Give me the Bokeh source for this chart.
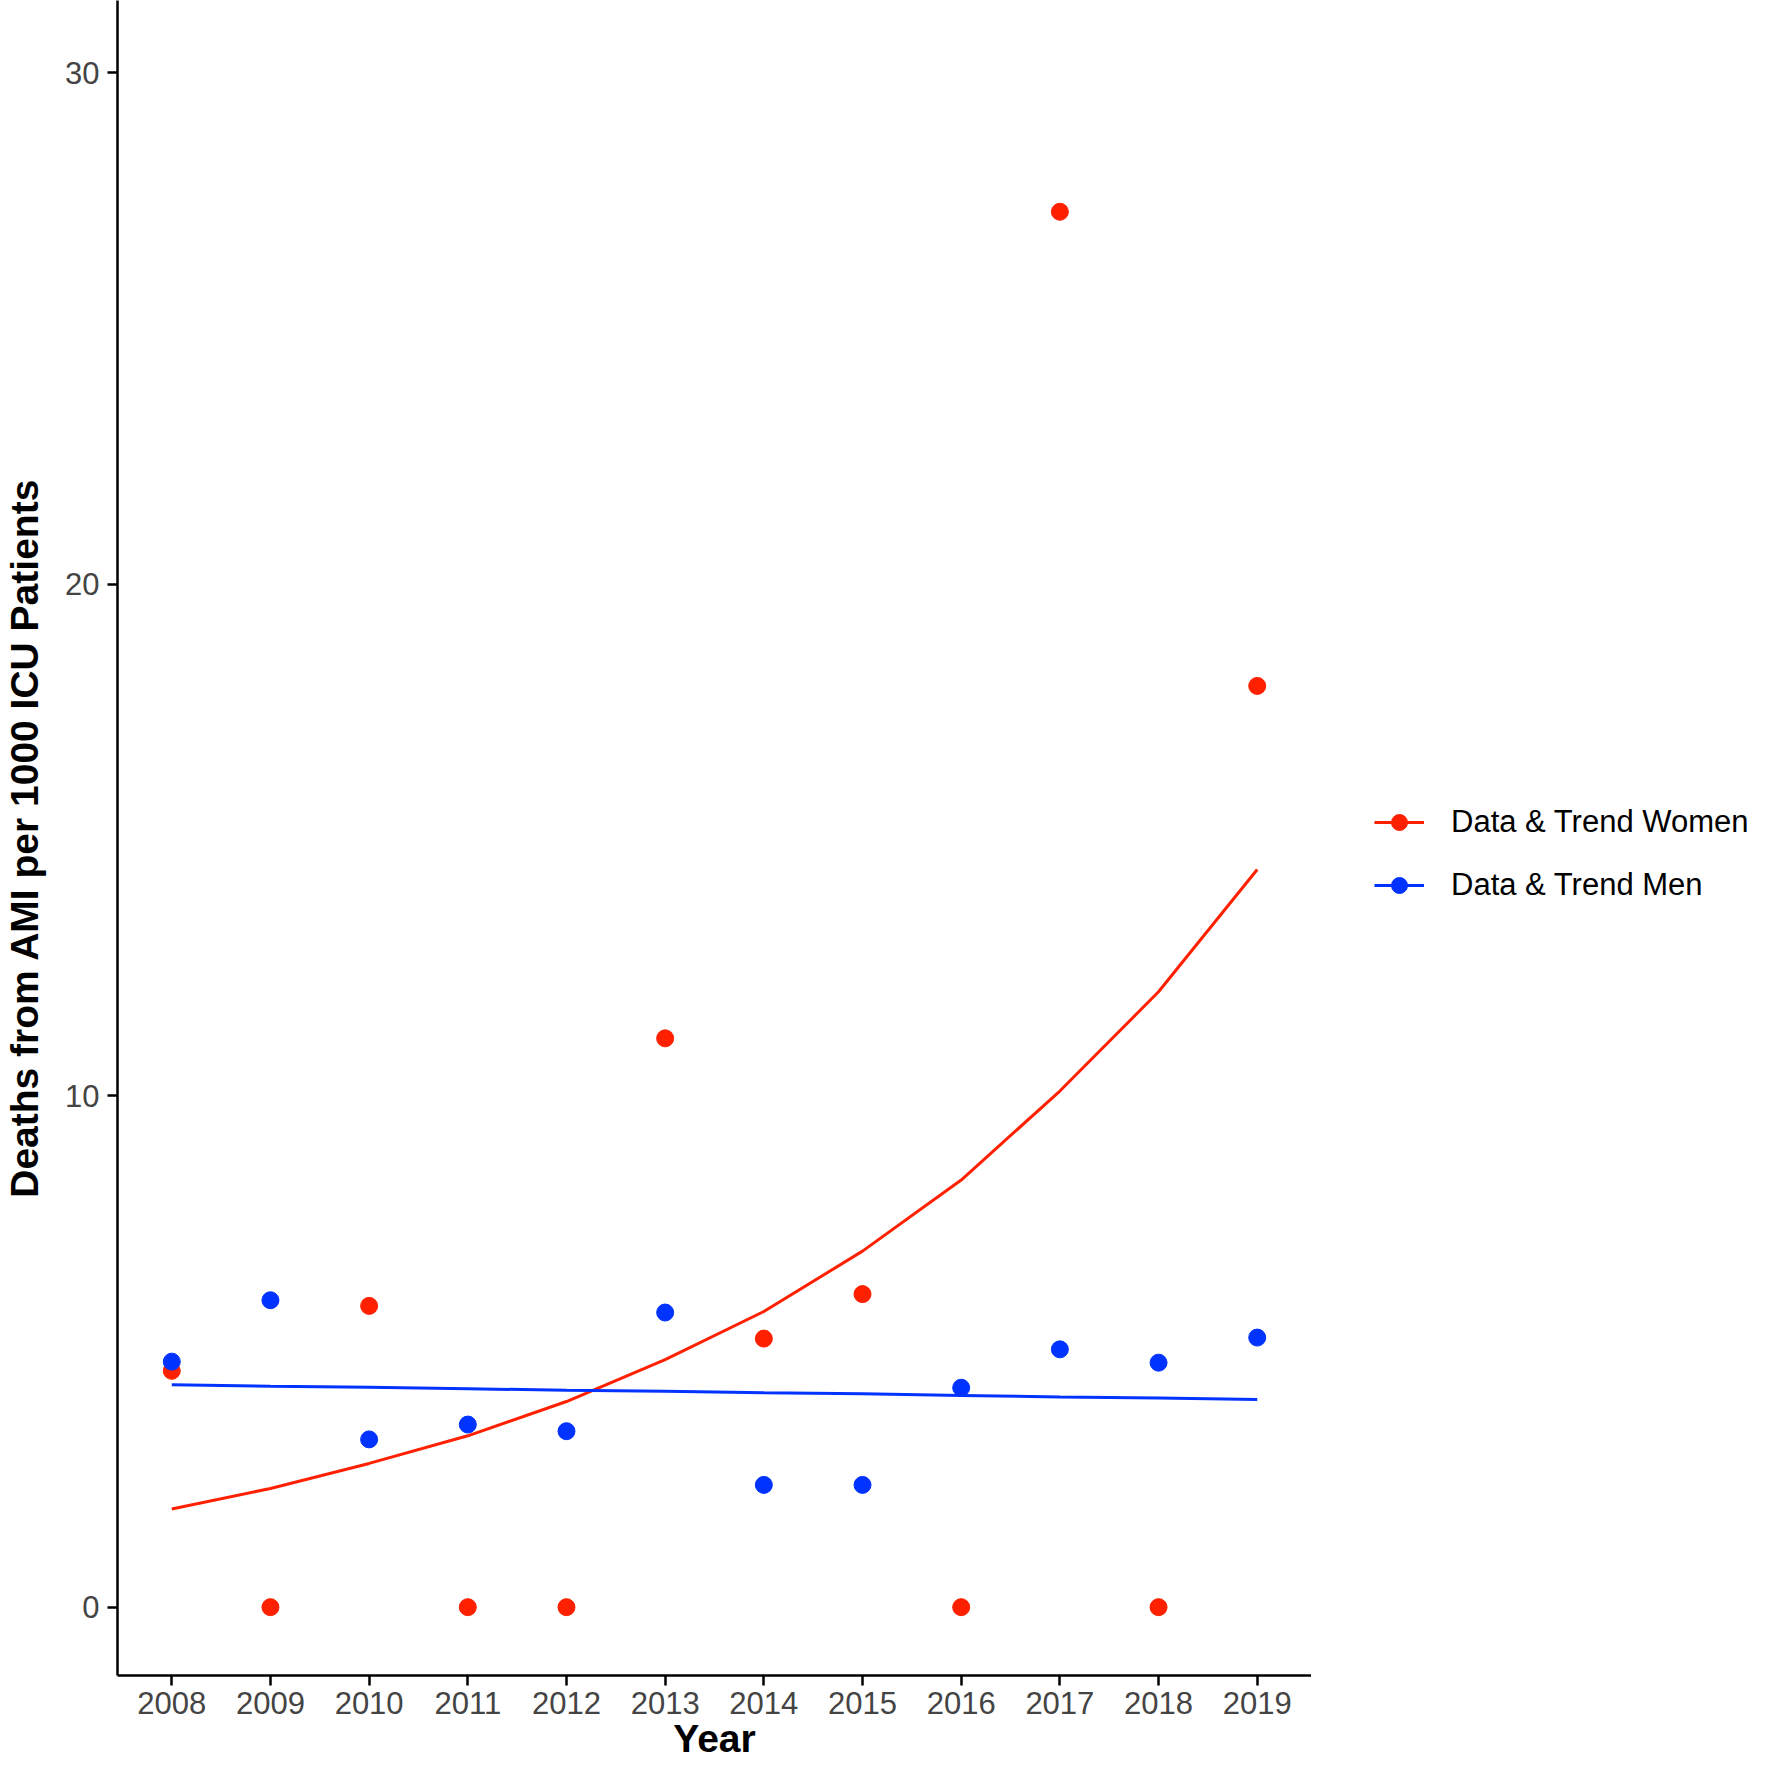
from bokeh.plotting import figure
from bokeh.models import Range1d, FixedTicker, Legend, LegendItem
from bokeh.layouts import row
from bokeh.embed import file_html
from bokeh.resources import INLINE

years = [2008, 2009, 2010, 2011, 2012, 2013, 2014, 2015, 2016, 2017, 2018, 2019]
women_data = [4.62, 0.0, 5.89, 0.0, 0.0, 11.12, 5.25, 6.12, 0.0, 27.28, 0.0, 18.01]
men_data = [4.80, 6.00, 3.28, 3.57, 3.44, 5.76, 2.39, 2.39, 4.29, 5.04, 4.78, 5.27]
women_trend = [1.92, 2.32, 2.81, 3.35, 4.02, 4.84, 5.78, 6.96, 8.35, 10.09, 12.03, 14.42]
men_trend = [4.35, 4.32, 4.30, 4.27, 4.24, 4.22, 4.19, 4.17, 4.14, 4.11, 4.09, 4.06]
y_ticks = [0, 10, 20, 30]
labels = ["Data & Trend Women", "Data & Trend Men"]

RED = "#FF2000"
BLUE = "#0033FF"
FONT = "Liberation Sans"

p = figure(width=1311, height=1767, output_backend="svg", toolbar_location=None,
           x_range=Range1d(2007.45, 2019.55), y_range=Range1d(-1.336, 31.41),
           min_border_left=109, min_border_right=0, min_border_top=0, min_border_bottom=92)
p.background_fill_color = "white"
p.border_fill_color = "white"
p.outline_line_color = None
p.xgrid.visible = False
p.ygrid.visible = False

for ax in (p.xaxis[0], p.yaxis[0]):
    ax.axis_line_color = "black"
    ax.axis_line_width = 2.5
    ax.major_tick_line_color = "black"
    ax.major_tick_line_width = 2.5
    ax.major_tick_out = 10
    ax.major_tick_in = 0
    ax.minor_tick_line_color = None
    ax.major_label_text_font = FONT
    ax.major_label_text_font_size = "31px"
    ax.major_label_text_color = "#444444"
    ax.major_label_standoff = 8
    ax.axis_label_text_font = FONT
    ax.axis_label_text_font_size = "39px"
    ax.axis_label_text_font_style = "bold"
    ax.axis_label_text_color = "black"

p.xaxis.ticker = FixedTicker(ticks=years)
p.yaxis.ticker = FixedTicker(ticks=y_ticks)
p.xaxis.axis_label = "Year"
p.yaxis.axis_label = "Deaths from AMI per 1000 ICU Patients"
p.xaxis.major_label_standoff = 6
p.xaxis.axis_label_standoff = 0
p.yaxis.axis_label_standoff = 16

p.line(years, women_trend, line_color=RED, line_width=3)
p.scatter(years, women_data, size=17, fill_color=RED, line_color=RED)
p.line(years, men_trend, line_color=BLUE, line_width=3)
p.scatter(years, men_data, size=17, fill_color=BLUE, line_color=BLUE)

# legend panel to the right of the plot (its ranges keep the proxy marks off-view)
q = figure(width=443, height=1767, output_backend="svg", toolbar_location=None,
           x_range=Range1d(0, 1), y_range=Range1d(0, 1),
           x_axis_location=None, y_axis_location=None,
           min_border_left=0, min_border_right=0, min_border_top=0, min_border_bottom=0)
q.grid.visible = False
q.outline_line_color = None
q.background_fill_color = "white"
q.border_fill_color = "white"
lw = q.line(years, women_trend, line_color=RED, line_width=3)
lwp = q.scatter(years, women_data, size=17, fill_color=RED, line_color=RED)
lm = q.line(years, men_trend, line_color=BLUE, line_width=3)
lmp = q.scatter(years, men_data, size=17, fill_color=BLUE, line_color=BLUE)

legend = Legend(items=[LegendItem(label=labels[0], renderers=[lw, lwp]),
                       LegendItem(label=labels[1], renderers=[lm, lmp])],
                location=(63, 770))
legend.margin = 0
legend.border_line_color = None
legend.background_fill_alpha = 0
legend.glyph_width = 50
legend.glyph_height = 40
legend.label_height = 40
legend.spacing = 23
legend.padding = 10
legend.label_standoff = 27
legend.label_text_font = FONT
legend.label_text_font_size = "31px"
legend.label_text_color = "black"
q.add_layout(legend, "center")

layout = row(p, q, spacing=0)
open("out.html", "w").write(file_html(layout, INLINE))
